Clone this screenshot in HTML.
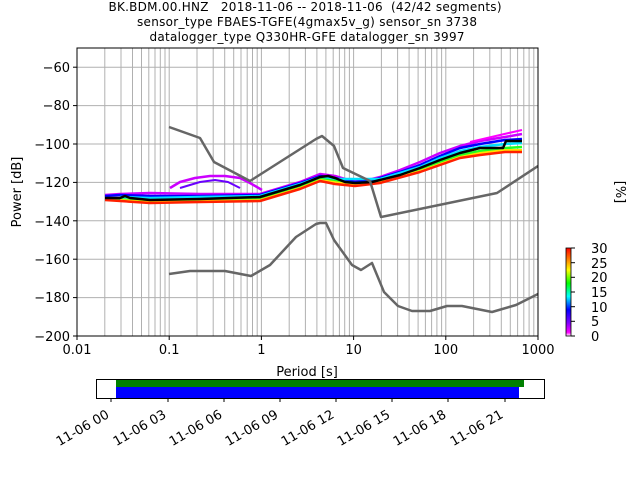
<!DOCTYPE html>
<html><head><meta charset="utf-8"><style>html,body{margin:0;padding:0;background:#fff}svg{display:block}text{font-family:"DejaVu Sans","Liberation Sans",sans-serif;fill:#000}</style></head>
<body>
<svg width="640" height="480" viewBox="0 0 640 480" xmlns="http://www.w3.org/2000/svg">
<defs>
<linearGradient id="cb" x1="0" y1="1" x2="0" y2="0">
<stop offset="0" stop-color="#ffffff"/><stop offset="0.04" stop-color="#ff00ff"/><stop offset="0.15" stop-color="#8000ff"/><stop offset="0.3" stop-color="#0000ff"/><stop offset="0.45" stop-color="#00ffff"/><stop offset="0.6" stop-color="#00ff00"/><stop offset="0.75" stop-color="#ffff00"/><stop offset="0.87" stop-color="#ff8000"/><stop offset="1" stop-color="#ff0000"/>
</linearGradient>
<clipPath id="ax"><rect x="77" y="48" width="461" height="288"/></clipPath>
</defs>
<text x="305" y="11" font-size="12" text-anchor="middle" textLength="393" xml:space="preserve">BK.BDM.00.HNZ   2018-11-06 -- 2018-11-06  (42/42 segments)</text>
<text x="307" y="26" font-size="12" text-anchor="middle" textLength="340">sensor_type FBAES-TGFE(4gmax5v_g) sensor_sn 3738</text>
<text x="307" y="41" font-size="12" text-anchor="middle" textLength="315">datalogger_type Q330HR-GFE datalogger_sn 3997</text>

<g stroke="#b0b0b0" stroke-width="1">
<line x1="104.8" y1="48" x2="104.8" y2="336"/><line x1="121" y1="48" x2="121" y2="336"/><line x1="132.5" y1="48" x2="132.5" y2="336"/><line x1="141.5" y1="48" x2="141.5" y2="336"/><line x1="148.8" y1="48" x2="148.8" y2="336"/><line x1="155" y1="48" x2="155" y2="336"/><line x1="160.3" y1="48" x2="160.3" y2="336"/><line x1="165" y1="48" x2="165" y2="336"/><line x1="169.2" y1="48" x2="169.2" y2="336"/>
<line x1="197" y1="48" x2="197" y2="336"/><line x1="213.2" y1="48" x2="213.2" y2="336"/><line x1="224.7" y1="48" x2="224.7" y2="336"/><line x1="233.7" y1="48" x2="233.7" y2="336"/><line x1="241" y1="48" x2="241" y2="336"/><line x1="247.2" y1="48" x2="247.2" y2="336"/><line x1="252.5" y1="48" x2="252.5" y2="336"/><line x1="257.2" y1="48" x2="257.2" y2="336"/><line x1="261.4" y1="48" x2="261.4" y2="336"/>
<line x1="289.2" y1="48" x2="289.2" y2="336"/><line x1="305.4" y1="48" x2="305.4" y2="336"/><line x1="316.9" y1="48" x2="316.9" y2="336"/><line x1="325.9" y1="48" x2="325.9" y2="336"/><line x1="333.2" y1="48" x2="333.2" y2="336"/><line x1="339.4" y1="48" x2="339.4" y2="336"/><line x1="344.7" y1="48" x2="344.7" y2="336"/><line x1="349.4" y1="48" x2="349.4" y2="336"/><line x1="353.6" y1="48" x2="353.6" y2="336"/>
<line x1="381.4" y1="48" x2="381.4" y2="336"/><line x1="397.6" y1="48" x2="397.6" y2="336"/><line x1="409.1" y1="48" x2="409.1" y2="336"/><line x1="418.1" y1="48" x2="418.1" y2="336"/><line x1="425.4" y1="48" x2="425.4" y2="336"/><line x1="431.6" y1="48" x2="431.6" y2="336"/><line x1="436.9" y1="48" x2="436.9" y2="336"/><line x1="441.6" y1="48" x2="441.6" y2="336"/><line x1="445.8" y1="48" x2="445.8" y2="336"/>
<line x1="473.6" y1="48" x2="473.6" y2="336"/><line x1="489.8" y1="48" x2="489.8" y2="336"/><line x1="501.3" y1="48" x2="501.3" y2="336"/><line x1="510.3" y1="48" x2="510.3" y2="336"/><line x1="517.6" y1="48" x2="517.6" y2="336"/><line x1="523.8" y1="48" x2="523.8" y2="336"/><line x1="529.1" y1="48" x2="529.1" y2="336"/><line x1="533.8" y1="48" x2="533.8" y2="336"/>
<line x1="77" y1="67.2" x2="538" y2="67.2"/><line x1="77" y1="105.6" x2="538" y2="105.6"/><line x1="77" y1="144" x2="538" y2="144"/><line x1="77" y1="182.4" x2="538" y2="182.4"/><line x1="77" y1="220.8" x2="538" y2="220.8"/><line x1="77" y1="259.2" x2="538" y2="259.2"/><line x1="77" y1="297.6" x2="538" y2="297.6"/>
</g>

<g clip-path="url(#ax)" fill="none" stroke-linejoin="round">
<polyline stroke="#cc00ff" stroke-width="2.5" points="170,188 180,182 195,178 210,176 225,176 240,178 250,183 262,190"/>
<polyline stroke="#6a00ff" stroke-width="2" points="180,188 200,182 215,180 228,182 240,188"/>
<polyline stroke="#cc00ff" stroke-width="2.5" points="105,195 120,194 150,193 200,194 260,194 280,188 300,182 320,174 335,176 345,179 355,181 372,179 380,177 400,170 420,162 440,153 460,146 480,141 505,137 522,134"/>
<polyline stroke="#0000ff" stroke-width="2.5" points="105,196 120,195 150,196 200,196 260,195 280,189 300,183 320,176 335,178 345,180 355,182 372,180 380,178 400,172 420,165 440,156 460,148 480,144 505,140 522,139"/>
<polyline stroke="#00e0ff" stroke-width="2.5" points="120,197 150,198 200,197 260,196 300,184 320,177 335,179 380,179 420,167 440,158 460,151 480,147 505,144 522,143"/>
<polyline stroke="#20ff20" stroke-width="2.5" points="110,199 150,201 200,200 260,199 300,187 320,179 335,181 355,184 380,181 420,170 440,162 460,155 480,151 505,148 522,147"/>
<polyline stroke="#ffe000" stroke-width="2" points="120,200 150,202 200,201 260,200 300,188 320,180 355,185 380,182 420,171 440,164 460,157 480,153 505,150 522,150"/>
<polyline stroke="#ff2000" stroke-width="2.5" points="105,200 150,203 200,202 260,201 300,189 320,181 335,184 355,186 380,183 420,172 440,165 460,158 480,155 505,152 522,152"/>
<polyline stroke="#ff00ff" stroke-width="2" points="470,142 500,135 522,130"/>
<polyline stroke="#000" stroke-width="2.5" points="105,198 120,198 125,196 130,198 150,200 200,199 260,197 280,191 300,185 320,177 328,176 335,178 345,182 355,183 372,182 380,180 400,175 420,168 440,160 460,153 480,148 503,148 506,141 522,141"/>
<polyline stroke="#666" stroke-width="2.5" points="169,127 200,138 214,162 250,181 316,139 322,136 334,146 343,168 370,181 381,217 497,193 538,166"/>
<polyline stroke="#666" stroke-width="2.5" points="169,274 190,271 225,271 251,276 270,265 296,237 316,224 320,223 326,223 334,240 352,265 361,270 372,263 384,292 398,306 412,311 430,311 447,306 462,306 492,312 516,305 538,294"/>
</g>
<rect x="77" y="48" width="461" height="288" fill="none" stroke="#000" stroke-width="1"/>

<g stroke="#000"><line x1="73" y1="67.2" x2="77" y2="67.2"/><line x1="73" y1="105.6" x2="77" y2="105.6"/><line x1="73" y1="144" x2="77" y2="144"/><line x1="73" y1="182.4" x2="77" y2="182.4"/><line x1="73" y1="220.8" x2="77" y2="220.8"/><line x1="73" y1="259.2" x2="77" y2="259.2"/><line x1="73" y1="297.6" x2="77" y2="297.6"/><line x1="73" y1="336" x2="77" y2="336"/>
<line x1="77" y1="336" x2="77" y2="340"/><line x1="169.2" y1="336" x2="169.2" y2="340"/><line x1="261.4" y1="336" x2="261.4" y2="340"/><line x1="353.6" y1="336" x2="353.6" y2="340"/><line x1="445.8" y1="336" x2="445.8" y2="340"/><line x1="538" y1="336" x2="538" y2="340"/></g>
<g font-size="13" text-anchor="end"><text x="70" y="72">−60</text><text x="70" y="110">−80</text><text x="70" y="149">−100</text><text x="70" y="187">−120</text><text x="70" y="226">−140</text><text x="70" y="264">−160</text><text x="70" y="302">−180</text><text x="70" y="341">−200</text></g>
<g font-size="13" text-anchor="middle"><text x="77" y="354">0.01</text><text x="169.2" y="354">0.1</text><text x="261.4" y="354">1</text><text x="353.6" y="354">10</text><text x="445.8" y="354">100</text><text x="538" y="354">1000</text></g>
<text x="307" y="376" font-size="13" text-anchor="middle">Period [s]</text>
<text transform="translate(21,192) rotate(-90)" font-size="13" text-anchor="middle">Power [dB]</text>

<rect x="566" y="248" width="5" height="88" fill="url(#cb)" stroke="#000" stroke-width="0.8"/>
<g stroke="#000"><line x1="571" y1="248" x2="575" y2="248"/><line x1="571" y1="262.7" x2="575" y2="262.7"/><line x1="571" y1="277.3" x2="575" y2="277.3"/><line x1="571" y1="292" x2="575" y2="292"/><line x1="571" y1="306.7" x2="575" y2="306.7"/><line x1="571" y1="321.3" x2="575" y2="321.3"/><line x1="571" y1="336" x2="575" y2="336"/></g>
<g font-size="13"><text x="591" y="253">30</text><text x="591" y="268">25</text><text x="591" y="282">20</text><text x="591" y="297">15</text><text x="591" y="312">10</text><text x="591" y="326">5</text><text x="591" y="341">0</text></g>
<text transform="translate(616,192) rotate(90)" font-size="13" text-anchor="middle">[%]</text>

<rect x="116" y="379" width="408" height="8" fill="#008000"/>
<rect x="116" y="387" width="403" height="11" fill="#0000ff"/>
<rect x="96.5" y="379.5" width="448" height="19" fill="none" stroke="#000"/>
<g stroke="#000"><line x1="111" y1="398" x2="111" y2="402"/><line x1="168" y1="398" x2="168" y2="402"/><line x1="224" y1="398" x2="224" y2="402"/><line x1="280" y1="398" x2="280" y2="402"/><line x1="336" y1="398" x2="336" y2="402"/><line x1="392" y1="398" x2="392" y2="402"/><line x1="448" y1="398" x2="448" y2="402"/><line x1="505" y1="398" x2="505" y2="402"/></g>
<g font-size="13" text-anchor="end">
<text transform="translate(110,417) rotate(-30)">11-06 00</text>
<text transform="translate(167,417) rotate(-30)">11-06 03</text>
<text transform="translate(223,417) rotate(-30)">11-06 06</text>
<text transform="translate(279,417) rotate(-30)">11-06 09</text>
<text transform="translate(335,417) rotate(-30)">11-06 12</text>
<text transform="translate(391,417) rotate(-30)">11-06 15</text>
<text transform="translate(447,417) rotate(-30)">11-06 18</text>
<text transform="translate(504,417) rotate(-30)">11-06 21</text>
</g>
</svg>
</body></html>
